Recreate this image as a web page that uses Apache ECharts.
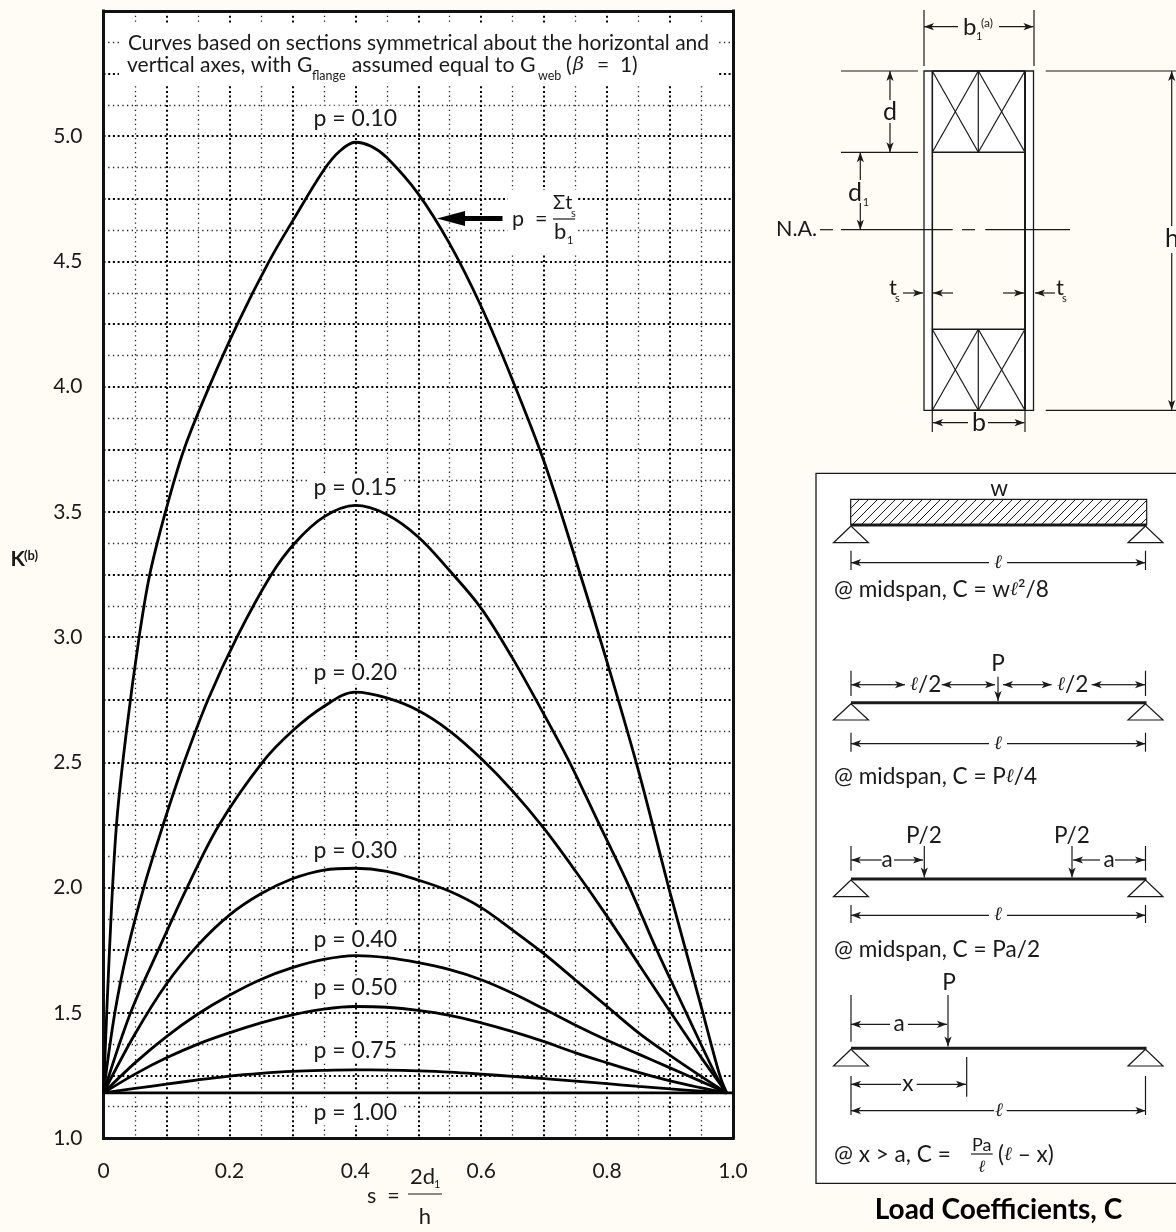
<!DOCTYPE html>
<html>
<head>
<meta charset="utf-8">
<style>html,body{margin:0;padding:0;background:#fffcf5}#c{width:1176px;height:1232px}</style>
<script src="https://cdn.jsdelivr.net/npm/echarts@6/dist/echarts.min.js"></script>
</head>
<body>
<div id="c"></div>
<script>
const xTickLabels = ['0','0.2','0.4','0.6','0.8','1.0'];
const yTickLabels = ['1.0','1.5','2.0','2.5','3.0','3.5','4.0','4.5','5.0'];
const curveNames = ['p = 0.10','p = 0.15','p = 0.20','p = 0.30','p = 0.40','p = 0.50','p = 0.75','p = 1.00'];
const labelK = [5.072,3.599,2.86,2.146,1.794,1.6,1.351,1.1];
const p010 = [[0,1.18],[.0095,1.75],[.0206,2.25],[.0365,2.625],[.0566,3],[.0735,3.25],[.0984,3.5],[.128,3.75],[.168,4],[.2127,4.25],[.263,4.5],[.3,4.66],[.35,4.865],[.375,4.94],[.4,4.976],[.425,4.96],[.45,4.915],[.5,4.77],[.55,4.57],[.6,4.32],[.65,4.025],[.7,3.7],[.75,3.31],[.8,2.9],[.85,2.465],[.9,1.98],[.95,1.52],[.979,1.25],[.99,1.18]];
const p015 = [[0,1.18],[.018,1.5],[.038,1.75],[.064,2],[.0947,2.25],[.128,2.5],[.166,2.75],[.212,3],[.2667,3.25],[.3037,3.375],[.35,3.48],[.4,3.526],[.45,3.49],[.5,3.4],[.55,3.265],[.6,3.115],[.65,2.915],[.7,2.69],[.7405,2.5],[.788,2.25],[.8357,2],[.879,1.75],[.9257,1.5],[.973,1.25],[.99,1.18]];
const p020 = [[0,1.18],[.043,1.5],[.087,1.75],[.1328,2],[.1836,2.25],[.2524,2.5],[.3,2.625],[.35,2.723],[.4,2.78],[.45,2.757],[.5,2.707],[.55,2.625],[.6,2.515],[.65,2.385],[.7,2.235],[.75,2.065],[.8,1.885],[.85,1.695],[.9,1.505],[.95,1.32],[.99,1.18]];
const p030 = [[0,1.18],[.05,1.415],[.1,1.615],[.15,1.77],[.2,1.89],[.25,1.975],[.3,2.035],[.35,2.07],[.4,2.077],[.45,2.065],[.5,2.03],[.55,1.985],[.6,1.92],[.65,1.83],[.7,1.735],[.75,1.63],[.8,1.525],[.85,1.42],[.9,1.33],[.95,1.245],[.99,1.18]];
const p040 = [[0,1.18],[.05,1.3],[.1,1.405],[.15,1.495],[.2,1.57],[.25,1.633],[.3,1.68],[.35,1.713],[.4,1.728],[.45,1.72],[.5,1.7],[.55,1.672],[.6,1.632],[.65,1.578],[.7,1.515],[.75,1.45],[.8,1.39],[.85,1.335],[.9,1.28],[.95,1.225],[.99,1.18]];
const p050 = [[0,1.18],[.05,1.255],[.1,1.32],[.15,1.375],[.2,1.42],[.25,1.46],[.3,1.492],[.35,1.515],[.4,1.525],[.45,1.522],[.5,1.51],[.55,1.49],[.6,1.46],[.65,1.425],[.7,1.385],[.75,1.34],[.8,1.3],[.85,1.262],[.9,1.228],[.95,1.2],[.99,1.18]];
const p075 = [[0,1.18],[.05,1.198],[.1,1.215],[.15,1.232],[.2,1.247],[.25,1.258],[.3,1.266],[.35,1.27],[.4,1.272],[.45,1.271],[.5,1.268],[.55,1.263],[.6,1.255],[.65,1.246],[.7,1.237],[.75,1.227],[.8,1.217],[.85,1.206],[.9,1.196],[.95,1.187],[.99,1.18]];
const p100 = [[0,1.18],[1,1.18]];
const allCurves = [p010,p015,p020,p030,p040,p050,p075,p100];

const FONT = 'Lato, "Open Sans", "DejaVu Sans", sans-serif';
const SERIF = '"DejaVu Serif", serif';
const INK = '#1a1a1a';
const measure = document.createElement('canvas').getContext('2d');
const g = [];

function T(x,y,str,size,opt){
  opt = opt||{};
  const font = (opt.italic?'italic ':'')+(opt.bold?'bold ':'')+size+'px '+(opt.family||FONT);
  g.push({type:'text',silent:true,z:5,style:{text:str,x:x,y:y,font:font,fill:opt.fill||INK,
    align:opt.align||'center',verticalAlign:'middle',textAlign:opt.align||'center',textVerticalAlign:'middle'}});
}
function flow(x,y,parts){
  parts.forEach(function(p){
    const size=p[1], dy=p[2]||0, o=p[3]||{};
    const font=(o.italic?'italic ':'')+(o.bold?'bold ':'')+size+'px '+(o.family||FONT);
    measure.font=font;
    T(x,y+dy,p[0],size,Object.assign({align:'left'},o));
    x+=measure.measureText(p[0]).width;
  });
}
function L(x1,y1,x2,y2,w,c,z){
  g.push({type:'line',silent:true,z:z||4,shape:{x1:x1,y1:y1,x2:x2,y2:y2},style:{stroke:c||INK,lineWidth:w||1.2}});
}
function A(x1,y1,x2,y2,w){ // line with barbed head at x2,y2
  L(x1,y1,x2,y2,w||1.2);
  const d=Math.hypot(x2-x1,y2-y1),ux=(x2-x1)/d,uy=(y2-y1)/d,len=10,hw=3.6,nt=7.5;
  g.push({type:'polygon',silent:true,z:4,shape:{points:[[x2,y2],[x2-ux*len-uy*hw,y2-uy*len+ux*hw],[x2-ux*nt,y2-uy*nt],[x2-ux*len+uy*hw,y2-uy*len-ux*hw]]},style:{fill:INK}});
}
function R(x,y,w,h,fill,stroke,lw,z){
  g.push({type:'rect',silent:true,z:z===undefined?1:z,shape:{x:x,y:y,width:w,height:h},style:{fill:fill||'none',stroke:stroke||'none',lineWidth:lw||0}});
}
function tri(x,y,base){
  g.push({type:'polygon',silent:true,z:4,shape:{points:[[x,y],[x-17.5,base],[x+17.5,base]]},style:{fill:'none',stroke:INK,lineWidth:1.2}});
}
const LX=851,RX=1145.5,TXT=22.6,ELL={family:SERIF,italic:true};
function beam(y,base){ L(LX,y,RX+1,y,3); tri(LX,y+1,base); tri(RX,y+1,base); }
function ellDim(y,t0,t1){ L(LX,t0,LX,t1); L(RX,t0,RX,t1); A(989,y,LX,y); A(1007,y,RX,y); T(998,y,'\u2113',19,ELL); }

/* ---- plot annotations ---- */
R(119,25,599,61,'#fff');
T(128,43,'Curves based on sections symmetrical about the horizontal and',21,{align:'left'});
T(127,65,'vertical axes, with G',21,{align:'left'});
T(312,75.5,'flange',12.5,{align:'left'});
T(351.7,65,'assumed equal to G',21.3,{align:'left'});
T(538,75.5,'web',12.5,{align:'left'});
T(566,65,'(',21,{align:'left'});
T(573,65,'\u03b2',19,{align:'left',italic:true,family:SERIF});
T(597,65,'=  1)',21,{align:'left'});

R(508,190,70,63,'#fff');
g.push({type:'polygon',silent:true,z:4,shape:{points:[[437,218.5],[465,211],[465,216],[502.5,216],[502.5,221],[465,221],[465,226]]},style:{fill:'#000'}});
T(512,219,'p  =',21.5,{align:'left'});
T(553,203,'\u03a3t',20,{align:'left'}); T(571,213,'s',11,{align:'left'});
L(553,219,575,219,1.2);
T(554,232,'b',22,{align:'left'}); T(567,240,'1',11,{align:'left'});

/* axis captions, s = 2d1/h and K(b) */
T(10.5,559,'K',21,{bold:true,align:'left'}); T(24,556,'(b)',13,{bold:true,align:'left'});
T(367,1196,'s  =',21.5,{align:'left'});
T(410,1177,'2d',22,{align:'left'}); T(434,1184,'1',11,{align:'left'});
L(408,1194,442,1194,1.2);
T(425,1217,'h',22);

/* ---- section diagram ---- */
R(924,71,109.5,339,'#fff','none',0,2);
R(932.3,152.3,92.7,177,'#fffcf5','none',0,2);
L(924,10,924,66); L(1034,10,1034,66);
A(958,26.7,924,26.7); A(999,26.7,1033.5,26.7);
T(963,27,'b',24,{align:'left'}); T(976,36,'1',11,{align:'left'}); T(981,23,'(a)',12,{align:'left'});
L(841,71,918,71); L(841,152.3,918,152.3); L(1045.7,71,1176,71); L(1045.7,410.3,1176,410.3);
g.push({type:'rect',silent:true,z:4,shape:{x:924,y:71,width:109.5,height:339.3},style:{fill:'none',stroke:INK,lineWidth:1.3}});
L(932.3,71,932.3,410.3,1.6); L(1025,71,1025,410.3,2);
[[71,152.3],[329.3,410.3]].forEach(function(b){
  L(932.3,b[0],1025,b[0],1.4); L(932.3,b[1],1025,b[1],1.4); L(978.3,b[0],978.3,b[1]);
  L(932.3,b[0],978.3,b[1]); L(978.3,b[0],932.3,b[1]); L(978.3,b[0],1025,b[1]); L(1025,b[0],978.3,b[1]);
});
A(890,100,890,71); A(890,123,890,152.3); T(890,112,'d',25);
A(860.3,180,860.3,152.3); A(860.3,203,860.3,229.7); T(855,193,'d',25); T(866,202,'1',11);
L(820,229.7,833,229.7); L(841,229.7,952.7,229.7); L(962,229.7,975,229.7); L(985.3,229.7,1070,229.7);
T(776,229,'N.A.',21.5,{align:'left'});
A(1171.7,226,1171.7,71); A(1171.7,253,1171.7,410); T(1172,239,'h',25);
T(893,288,'t',22); T(897.5,298,'s',11); A(903,293,923,293);
A(953,293,933,293); A(1003,293,1024,293);
A(1055,293,1035,293); T(1060,288,'t',22); T(1064.5,298,'s',11);
L(932.3,411,932.3,432); L(1025,411,1025,432);
A(968,422.7,933,422.7); A(988,422.7,1024.5,422.7); T(979,423,'b',25);

/* ---- load coefficient panel ---- */
R(816,473.3,372,710,'#fff',INK,1.3,2);
T(999,489,'w',TXT);
const hx0=850.7,hx1=1146.7,hy0=499.3,hy1=525;
for(let c=hx0+9;c<hx1+(hy1-hy0);c+=9){
  const xa=Math.max(c-(hy1-hy0),hx0), ya=hy1-(xa-(c-(hy1-hy0)));
  const xb=Math.min(c,hx1), yb=hy0+(c-xb);
  L(xa,ya,xb,yb,1);
}
g.push({type:'rect',silent:true,z:4,shape:{x:hx0,y:hy0,width:hx1-hx0,height:hy1-hy0},style:{fill:'none',stroke:INK,lineWidth:1.2}});
beam(525,542.7); ellDim(562.7,550.7,570);
flow(834,590,[['@ midspan, C = w',TXT],['\u2113',19,0,ELL],['\u00b2',TXT],['/8',TXT]]);

T(998,664,'P',TXT);
L(LX,670.7,LX,696); L(RX,670.7,RX,696);
A(880,684.7,LX,684.7); A(880,684.7,905,684.7);
flow(910,684.7,[['\u2113',19,0,ELL],['/2',TXT]]);
A(968,684.7,941.7,684.7); A(968,684.7,995,684.7);
A(998,676.7,998,701);
A(1027,684.7,1003,684.7); A(1027,684.7,1051.7,684.7);
flow(1057,684.7,[['\u2113',19,0,ELL],['/2',TXT]]);
A(1118,684.7,1091.7,684.7); A(1118,684.7,1145,684.7);
beam(702.7,720); ellDim(743.7,732.7,751.7);
flow(834,776.7,[['@ midspan, C = P',TXT],['\u2113',19,0,ELL],['/4',TXT]]);

T(924,836,'P/2',TXT); T(1072,836,'P/2',TXT);
L(LX,846,LX,870.7); L(RX,846,RX,870.7);
A(924.3,846,924.3,877.5); A(1072,846,1072,877.5);
A(881.7,860,LX,860); A(894,860,923,860); T(887,860,'a',TXT);
A(1100,860,1073,860); A(1115,860,1145,860); T(1109,860,'a',TXT);
beam(879,896.7); ellDim(915.3,905,923);
flow(834,950,[['@ midspan, C = Pa/2',TXT]]);

T(949,983,'P',TXT);
L(LX,995,LX,1041.7);
A(948,995,948,1046.5);
A(890,1024.3,LX,1024.3); A(908,1024.3,947,1024.3); T(899,1024,'a',TXT);
beam(1048.3,1066);
L(966.7,1057,966.7,1096.7);
L(LX,1076,LX,1115); L(RX,1076,RX,1115);
A(901,1084.3,LX,1084.3); A(916.7,1084.3,966,1084.3); T(908,1084,'x',TXT);
A(994,1110.7,LX,1110.7); A(1006.7,1110.7,RX,1110.7); T(999,1111,'\u2113',19,ELL);
flow(834,1155,[['@ x > a, C =',TXT]]);
T(981.7,1145,'Pa',18); L(971,1154,992.7,1154,1.2); T(981.7,1168,'\u2113',17,ELL);
flow(998,1155,[['(',TXT],['\u2113',19,0,ELL],[' \u2013 x)',TXT]]);
T(998.5,1210,'Load Coefficients, C',28,{bold:true,fill:'#000'});

/* ---- chart ---- */
const chart = echarts.init(document.getElementById('c'),null,{renderer:'canvas'});
const heavy = {show:true,lineStyle:{color:'#000',width:2,type:[2,2.7]}};
const light = {show:true,lineStyle:{color:'#222',width:1.3,type:[1.3,3.4]}};
const frame = {show:true,onZero:false,lineStyle:{color:'#111',width:3,cap:'square'}};
const labelStyle = {color:INK,fontFamily:FONT,fontSize:21,showMinLabel:true,showMaxLabel:true};
const none = {show:false};

chart.setOption({
  animation:false,
  backgroundColor:'#fffcf5',
  grid:{left:103.5,right:443,top:11,bottom:94,show:true,backgroundColor:'#fff',borderWidth:0},
  graphic:{elements:g},
  xAxis:[
    {type:'value',min:0,max:1,interval:0.1,position:'bottom',axisLine:frame,axisTick:none,
     splitLine:heavy,minorSplitLine:light,minorTick:{show:false,splitNumber:2},
     axisLabel:Object.assign({margin:23,formatter:function(v){const i=Math.round(v*10);return i%2?'':xTickLabels[i/2];}},labelStyle)},
    {type:'value',min:0,max:1,position:'top',axisLine:frame,axisTick:none,axisLabel:none,splitLine:none}
  ],
  yAxis:[
    {type:'value',min:1,max:5.5,interval:0.25,position:'left',axisLine:frame,axisTick:none,
     splitLine:heavy,minorSplitLine:light,minorTick:{show:false,splitNumber:2},
     axisLabel:Object.assign({margin:21,formatter:function(v){const i=Math.round((v-1)/0.25);return i%2?'':(yTickLabels[i/2]||'');}},labelStyle)},
    {type:'value',min:1,max:5.5,position:'right',axisLine:frame,axisTick:none,axisLabel:none,splitLine:none}
  ],
  series: allCurves.map(function(d,i){
    return {type:'line',name:curveNames[i],data:d,showSymbol:false,symbol:'none',smooth:0.35,z:3,
      lineStyle:{color:'#000',width:2.8},silent:true};
  }).concat([{
    type:'scatter',name:'curve labels',z:2,silent:true,symbolSize:1,itemStyle:{color:'rgba(0,0,0,0)',opacity:1},
    data:labelK.map(function(k,i){return {value:[0.4,k],name:curveNames[i]};}),
    label:{show:true,position:'inside',formatter:'{b}',color:INK,opacity:1,fontFamily:FONT,fontSize:23,
      backgroundColor:'#fff',padding:[1,5]}
  }])
});
</script>
</body>
</html>
